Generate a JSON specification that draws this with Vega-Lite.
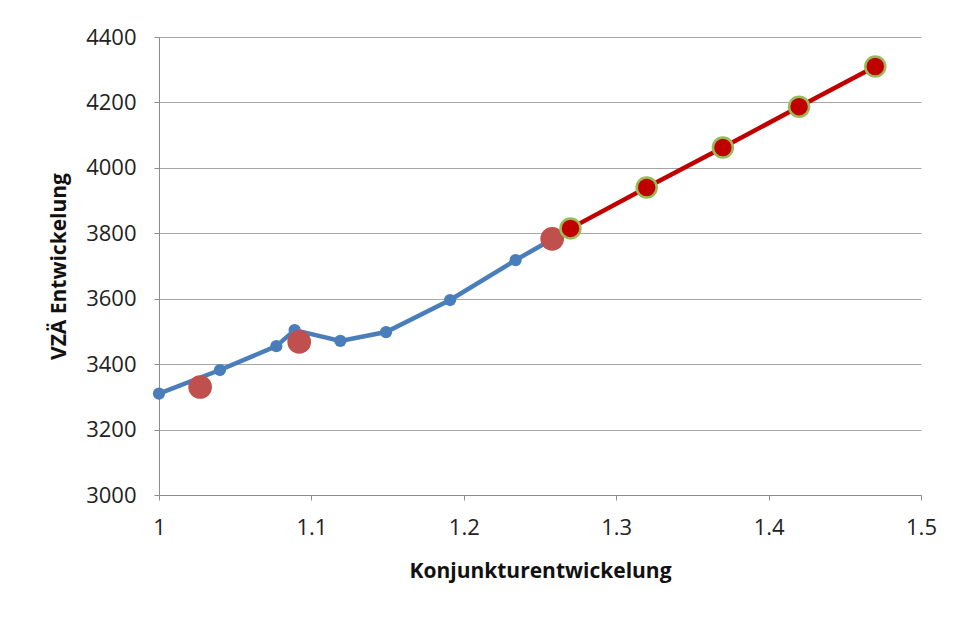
{
  "$schema": "https://vega.github.io/schema/vega-lite/v6.json",
  "width": 762,
  "height": 458,
  "autosize": {"type": "none"},
  "padding": {"left": 159, "top": 37, "right": 39, "bottom": 122},
  "background": "white",
  "config": {
    "view": {"stroke": null},
    "font": "Open Sans",
    "axis": {
      "labelFont": "Open Sans",
      "labelFontSize": 22,
      "labelColor": "#222222",
      "titleFont": "Open Sans",
      "titleFontWeight": "bold",
      "titleFontSize": 21,
      "titleColor": "#111111",
      "domainColor": "#8c8c8c",
      "tickColor": "#8c8c8c",
      "gridColor": "#a6a6a6",
      "tickSize": 5
    }
  },
  "data": {
    "values": [
      {"serie": "blau", "k": 1.0, "v": 3310},
      {"serie": "blau", "k": 1.04, "v": 3382},
      {"serie": "blau", "k": 1.077, "v": 3455},
      {"serie": "blau", "k": 1.089, "v": 3504},
      {"serie": "blau", "k": 1.119, "v": 3471},
      {"serie": "blau", "k": 1.149, "v": 3498},
      {"serie": "blau", "k": 1.191, "v": 3596},
      {"serie": "blau", "k": 1.234, "v": 3718},
      {"serie": "blau", "k": 1.258, "v": 3782},
      {"serie": "rosa", "k": 1.027, "v": 3330},
      {"serie": "rosa", "k": 1.092, "v": 3468},
      {"serie": "rosa", "k": 1.258, "v": 3783},
      {"serie": "rot", "k": 1.27, "v": 3815},
      {"serie": "rot", "k": 1.32, "v": 3940},
      {"serie": "rot", "k": 1.37, "v": 4062},
      {"serie": "rot", "k": 1.42, "v": 4187},
      {"serie": "rot", "k": 1.47, "v": 4310}
    ]
  },
  "encoding": {
    "x": {
      "field": "k",
      "type": "quantitative",
      "scale": {"domain": [1, 1.5], "nice": false, "zero": false},
      "axis": {
        "title": "Konjunkturentwickelung",
        "values": [1, 1.1, 1.2, 1.3, 1.4, 1.5],
        "format": "~g",
        "grid": false,
        "labelPadding": 17,
        "titlePadding": 22,
        "labelFlush": false
      }
    },
    "y": {
      "field": "v",
      "type": "quantitative",
      "scale": {"domain": [3000, 4400], "nice": false, "zero": false},
      "axis": {
        "title": "VZÄ Entwickelung",
        "values": [3000, 3200, 3400, 3600, 3800, 4000, 4200, 4400],
        "format": "d",
        "labelPadding": 18,
        "titlePadding": 16,
        "labelFlush": false
      }
    }
  },
  "layer": [
    {
      "transform": [{"filter": "datum.serie === 'blau'"}],
      "mark": {"type": "line", "color": "#4a7ebb", "strokeWidth": 4.5, "point": {"filled": true, "size": 150, "color": "#4a7ebb"}}
    },
    {
      "transform": [{"filter": "datum.serie === 'rosa'"}],
      "mark": {"type": "point", "filled": true, "size": 560, "color": "#c0504d", "opacity": 1}
    },
    {
      "transform": [{"filter": "datum.serie === 'rot'"}],
      "mark": {"type": "line", "color": "#c00000", "strokeWidth": 4.5}
    },
    {
      "transform": [{"filter": "datum.serie === 'rot'"}],
      "mark": {"type": "point", "filled": true, "size": 400, "fill": "#c00000", "stroke": "#9bbb59", "strokeWidth": 2.5, "opacity": 1}
    }
  ]
}
